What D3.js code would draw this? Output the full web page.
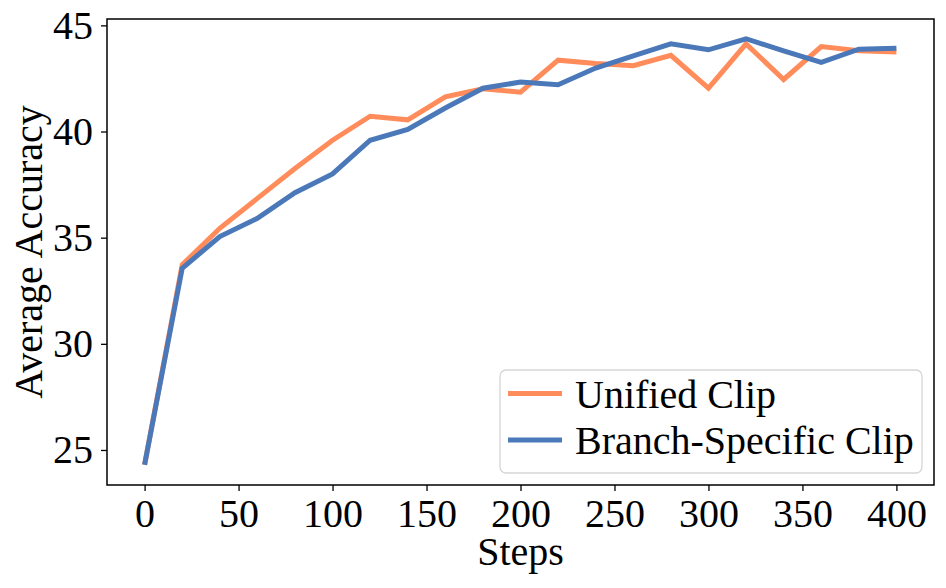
<!DOCTYPE html>
<html>
<head>
<meta charset="utf-8">
<script src="https://cdn.jsdelivr.net/npm/d3@7"></script>
<style>
  html, body { margin: 0; padding: 0; background: #fff; }
  svg { display: block; }
</style>
</head>
<body>
<div id="chart"></div>
<script>
// datos
const pasos = [0, 20, 40, 60, 80, 100, 120, 140, 160, 180, 200, 220, 240, 260, 280, 300, 320, 340, 360, 380, 400];
const unifiedClip = [24.3, 33.72, 35.44, 36.85, 38.26, 39.59, 40.72, 40.55, 41.63, 42.01, 41.85, 43.36, 43.2, 43.1, 43.59, 42.04, 44.13, 42.45, 44.0, 43.8, 43.75];
const branchClip = [24.3, 33.56, 35.05, 35.91, 37.12, 38.0, 39.59, 40.1, 41.11, 42.04, 42.33, 42.2, 42.99, 43.56, 44.13, 43.85, 44.37, 43.8, 43.26, 43.88, 43.92];
const ticksX = [0, 50, 100, 150, 200, 250, 300, 350, 400];
const ticksY = [25, 30, 35, 40, 45];
const series = [
    { nombre: "Unified Clip", valores: unifiedClip, color: "#ff8c5a" },
    { nombre: "Branch-Specific Clip", valores: branchClip, color: "#4a78b8" }
];

const ancho = 946, alto = 588;
const margen = { top: 19, right: 12, bottom: 103, left: 107 };
const fuente = "'Liberation Serif', 'Times New Roman', serif";

const $svg = d3.select("#chart")
    .append("svg")
    .attr("width", ancho)
    .attr("height", alto);

const x = d3.scaleLinear()
    .domain([-20, 420])
    .range([margen.left, ancho - margen.right]);

const y = d3.scaleLinear()
    .domain([23.35, 45.3])
    .range([alto - margen.bottom, margen.top]);

// ejes
const ejeX = $svg.append("g")
    .attr("transform", `translate(0,${alto - margen.bottom})`)
    .call(d3.axisBottom(x).tickValues(ticksX).tickSize(6).tickPadding(8).tickFormat(d3.format("d")));

const ejeY = $svg.append("g")
    .attr("transform", `translate(${margen.left},0)`)
    .call(d3.axisLeft(y).tickValues(ticksY).tickSize(6).tickPadding(8).tickFormat(d3.format("d")));

[ejeX, ejeY].forEach(eje => {
    eje.select(".domain").remove();
    eje.selectAll(".tick line").attr("stroke", "#000").attr("stroke-width", 1.3);
    eje.selectAll(".tick text")
        .attr("fill", "#000")
        .attr("font-family", fuente)
        .attr("font-size", 40);
});

// lineas
const linea = d3.line()
    .x((d, i) => x(pasos[i]))
    .y(d => y(d));

series.forEach(s => {
    $svg.append("path")
        .datum(s.valores)
        .attr("d", linea)
        .attr("fill", "none")
        .attr("stroke", s.color)
        .attr("stroke-width", 5)
        .attr("stroke-linejoin", "miter");
});

// marco
$svg.append("rect")
    .attr("x", margen.left)
    .attr("y", margen.top)
    .attr("width", ancho - margen.left - margen.right)
    .attr("height", alto - margen.top - margen.bottom)
    .attr("fill", "none")
    .attr("stroke", "#000")
    .attr("stroke-width", 1.5);

// leyenda
const leyenda = $svg.append("g");
leyenda.append("rect")
    .attr("x", 500)
    .attr("y", 370)
    .attr("width", 422)
    .attr("height", 103)
    .attr("rx", 6)
    .attr("fill", "#fff")
    .attr("fill-opacity", 0.8)
    .attr("stroke", "#d6d6d6")
    .attr("stroke-width", 1.3);

series.forEach((s, i) => {
    const yy = 393.5 + i * 46.5;
    leyenda.append("line")
        .attr("x1", 508).attr("x2", 562)
        .attr("y1", yy).attr("y2", yy)
        .attr("stroke", s.color)
        .attr("stroke-width", 5);
    leyenda.append("text")
        .attr("x", 575)
        .attr("y", yy)
        .attr("dy", "0.35em")
        .attr("font-family", fuente)
        .attr("font-size", 40)
        .attr("fill", "#000")
        .text(s.nombre);
});

// titulos de ejes
$svg.append("text")
    .attr("x", (margen.left + ancho - margen.right) / 2)
    .attr("y", 565)
    .attr("text-anchor", "middle")
    .attr("font-family", fuente)
    .attr("font-size", 40)
    .text("Steps");

$svg.append("text")
    .attr("transform", `translate(42,${(margen.top + alto - margen.bottom) / 2}) rotate(-90)`)
    .attr("text-anchor", "middle")
    .attr("font-family", fuente)
    .attr("font-size", 40)
    .text("Average Accuracy");
</script>
</body>
</html>
